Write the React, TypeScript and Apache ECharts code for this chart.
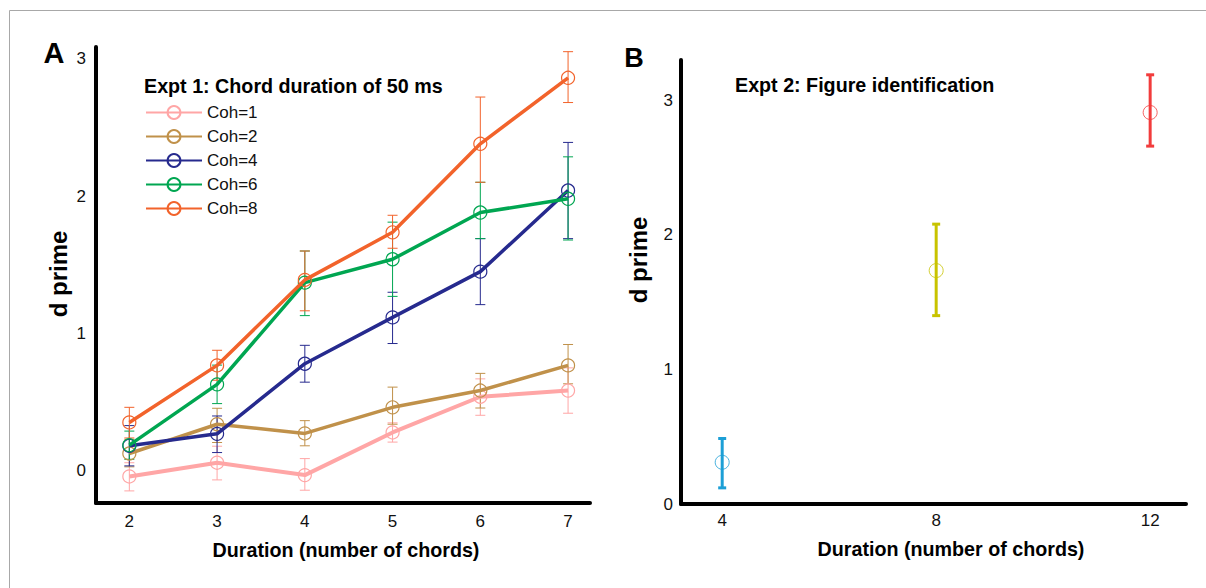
import React, { useEffect, useRef } from "react";
import * as echarts from "echarts";

// ---- Panel A data (Expt 1) ----
const durationsA = [2, 3, 4, 5, 6, 7];
const cohLabels = ["Coh=1", "Coh=2", "Coh=4", "Coh=6", "Coh=8"];
const cohColors = ["#ffa6a6", "#c0914a", "#262a8e", "#00a651", "#f2632b"];

const coh1Mean = [-0.04, 0.06, -0.03, 0.28, 0.54, 0.585];
const coh1Lo = [-0.145, -0.065, -0.14, 0.21, 0.405, 0.42];
const coh1Hi = [0.06, 0.18, 0.09, 0.35, 0.67, 0.75];

const coh2Mean = [0.127, 0.34, 0.273, 0.463, 0.585, 0.768];
const coh2Lo = [0.03, 0.207, 0.183, 0.34, 0.458, 0.634];
const coh2Hi = [0.23, 0.456, 0.366, 0.61, 0.71, 0.92];

const coh4Mean = [0.183, 0.27, 0.78, 1.117, 1.45, 2.04];
const coh4Lo = [0.037, 0.134, 0.646, 0.927, 1.21, 1.69];
const coh4Hi = [0.33, 0.4, 0.914, 1.3, 1.69, 2.39];

const coh6Mean = [0.188, 0.63, 1.37, 1.54, 1.88, 1.98];
const coh6Lo = [0.085, 0.49, 1.13, 1.27, 1.69, 1.68];
const coh6Hi = [0.29, 0.77, 1.6, 1.81, 2.1, 2.285];

const coh8Mean = [0.353, 0.768, 1.39, 1.736, 2.38, 2.86];
const coh8Lo = [0.24, 0.66, 1.165, 1.62, 2.1, 2.68];
const coh8Hi = [0.463, 0.878, 1.6, 1.86, 2.72, 3.05];

const yTicksA = [0, 1, 2, 3];

// ---- Panel B data (Expt 2) ----
const durationsB = [4, 8, 12];
const meanB = [0.31, 1.735, 2.91];
const loB = [0.12, 1.4, 2.66];
const hiB = [0.487, 2.08, 3.19];
const colorsB = ["#1c9fd6", "#c8c300", "#f23c3c"];
const yTicksB = [0, 1, 2, 3];

const FONT = "Liberation Sans";

const cohMeans = [coh1Mean, coh2Mean, coh4Mean, coh6Mean, coh8Mean];
const cohLos = [coh1Lo, coh2Lo, coh4Lo, coh6Lo, coh8Lo];
const cohHis = [coh1Hi, coh2Hi, coh4Hi, coh6Hi, coh8Hi];

function makeErrorRender(capHalf: number, lw: number, colorOf: (api: any) => string) {
  return (params: any, api: any) => {
    const x = api.value(0);
    const lo = api.value(1);
    const hi = api.value(2);
    const top = api.coord([x, hi]);
    const bot = api.coord([x, lo]);
    const style = { stroke: colorOf(api), lineWidth: lw, fill: "none" };
    return {
      type: "group",
      children: [
        { type: "line", shape: { x1: top[0], y1: top[1], x2: bot[0], y2: bot[1] }, style },
        { type: "line", shape: { x1: top[0] - capHalf, y1: top[1], x2: top[0] + capHalf, y2: top[1] }, style },
        { type: "line", shape: { x1: bot[0] - capHalf, y1: bot[1], x2: bot[0] + capHalf, y2: bot[1] }, style },
      ],
    };
  };
}

export default function App() {
  const ref = useRef<HTMLDivElement>(null);

  useEffect(() => {
    if (!ref.current) return;
    const chart = echarts.init(ref.current, undefined, { renderer: "svg" });

    const axisLine = { show: true, onZero: false, lineStyle: { color: "#000", width: 4 } };
    const tickLabel = { fontSize: 17, color: "#111", fontFamily: FONT };

    const errSeriesA = cohLabels.map((lab, k) => ({
      type: "custom",
      name: lab + " err",
      xAxisIndex: 0,
      yAxisIndex: 0,
      z: 1,
      renderItem: makeErrorRender(5, 1, () => cohColors[k]),
      encode: { x: 0, y: [1, 2] },
      data: durationsA.map((d, i) => [d, cohLos[k][i], cohHis[k][i]]),
      silent: true,
    }));

    const lineSeriesA = cohLabels.map((lab, k) => ({
      type: "line",
      name: lab,
      xAxisIndex: 0,
      yAxisIndex: 0,
      z: 2 + k,
      data: durationsA.map((d, i) => [d, cohMeans[k][i]]),
      symbol: "circle",
      symbolSize: 13,
      itemStyle: { color: "rgba(255,255,255,0)", borderColor: cohColors[k], borderWidth: 1.2 },
      lineStyle: { color: cohColors[k], width: k === 0 ? 4 : 3.5 },
      emphasis: { disabled: true },
    }));

    const option: any = {
      animation: false,
      backgroundColor: "#fff",
      grid: [
        { left: 96, top: 47, width: 494, height: 456 },
        { left: 681, top: 60, width: 505, height: 444 },
      ],
      xAxis: [
        {
          gridIndex: 0,
          type: "value",
          min: 1.62,
          max: 7.25,
          axisLine,
          axisTick: { show: false },
          splitLine: { show: false },
          axisLabel: { ...tickLabel, customValues: durationsA, margin: 10 },
        },
        {
          gridIndex: 1,
          type: "value",
          min: 3.23,
          max: 12.67,
          axisLine,
          axisTick: { show: false },
          splitLine: { show: false },
          axisLabel: { ...tickLabel, customValues: durationsB, margin: 8 },
        },
      ],
      yAxis: [
        {
          gridIndex: 0,
          type: "value",
          min: -0.233,
          max: 3.084,
          axisLine,
          axisTick: { show: false },
          splitLine: { show: false },
          axisLabel: { ...tickLabel, customValues: yTicksA, margin: 10 },
        },
        {
          gridIndex: 1,
          type: "value",
          min: 0,
          max: 3.3,
          axisLine,
          axisTick: { show: false },
          splitLine: { show: false },
          axisLabel: { ...tickLabel, customValues: yTicksB, margin: 8 },
        },
      ],
      legend: {
        data: cohLabels,
        orient: "vertical",
        left: 145,
        top: 104,
        padding: 0,
        itemWidth: 56,
        itemHeight: 16,
        itemGap: 7,
        selectedMode: false,
        lineStyle: { width: 2 },
        textStyle: { fontSize: 17, color: "#111", fontFamily: FONT },
      },
      series: [
        ...errSeriesA,
        ...lineSeriesA,
        {
          type: "custom",
          name: "Expt 2 err",
          xAxisIndex: 1,
          yAxisIndex: 1,
          renderItem: makeErrorRender(4, 3, (api: any) => colorsB[api.value(3)]),
          encode: { x: 0, y: [1, 2] },
          data: durationsB.map((d, i) => [d, loB[i], hiB[i], i]),
          silent: true,
        },
        {
          type: "scatter",
          name: "Expt 2",
          xAxisIndex: 1,
          yAxisIndex: 1,
          symbol: "circle",
          symbolSize: 14,
          data: durationsB.map((d, i) => ({
            value: [d, meanB[i]],
            itemStyle: { color: "rgba(255,255,255,0)", borderColor: colorsB[i], borderWidth: 1 },
          })),
          emphasis: { disabled: true },
        },
      ],
      graphic: [
        {
          type: "polyline",
          shape: { points: [[9.5, 588], [9.5, 10.5], [1206, 10.5]] },
          style: { stroke: "#a8a8a8", lineWidth: 1, fill: "none" },
          silent: true,
        },
        {
          type: "text",
          x: 54,
          y: 53,
          style: { text: "A", fontSize: 29, fontWeight: "bold", fontFamily: FONT, fill: "#000", align: "center", verticalAlign: "middle" },
        },
        {
          type: "text",
          x: 634,
          y: 58,
          style: { text: "B", fontSize: 27, fontWeight: "bold", fontFamily: FONT, fill: "#000", align: "center", verticalAlign: "middle" },
        },
        {
          type: "text",
          x: 144,
          y: 86,
          style: { text: "Expt 1: Chord duration of 50 ms", fontSize: 19.7, fontWeight: "bold", fontFamily: FONT, fill: "#000", align: "left", verticalAlign: "middle" },
        },
        {
          type: "text",
          x: 735,
          y: 85,
          style: { text: "Expt 2: Figure identification", fontSize: 19.7, fontWeight: "bold", fontFamily: FONT, fill: "#000", align: "left", verticalAlign: "middle" },
        },
        {
          type: "text",
          x: 346,
          y: 550,
          style: { text: "Duration (number of chords)", fontSize: 19.7, fontWeight: "bold", fontFamily: FONT, fill: "#000", align: "center", verticalAlign: "middle" },
        },
        {
          type: "text",
          x: 951,
          y: 549,
          style: { text: "Duration (number of chords)", fontSize: 19.7, fontWeight: "bold", fontFamily: FONT, fill: "#000", align: "center", verticalAlign: "middle" },
        },
        {
          type: "text",
          x: 58,
          y: 274,
          rotation: Math.PI / 2,
          style: { text: "d prime", fontSize: 24, fontWeight: "bold", fontFamily: FONT, fill: "#000", align: "center", verticalAlign: "middle" },
        },
        {
          type: "text",
          x: 638,
          y: 260,
          rotation: Math.PI / 2,
          style: { text: "d prime", fontSize: 24, fontWeight: "bold", fontFamily: FONT, fill: "#000", align: "center", verticalAlign: "middle" },
        },
      ],
    };

    chart.setOption(option);
    return () => chart.dispose();
  }, []);

  return (
    <div
      ref={ref}
      style={{ position: "absolute", left: 0, top: 0, width: 1206, height: 588, background: "#fff" }}
    />
  );
}
